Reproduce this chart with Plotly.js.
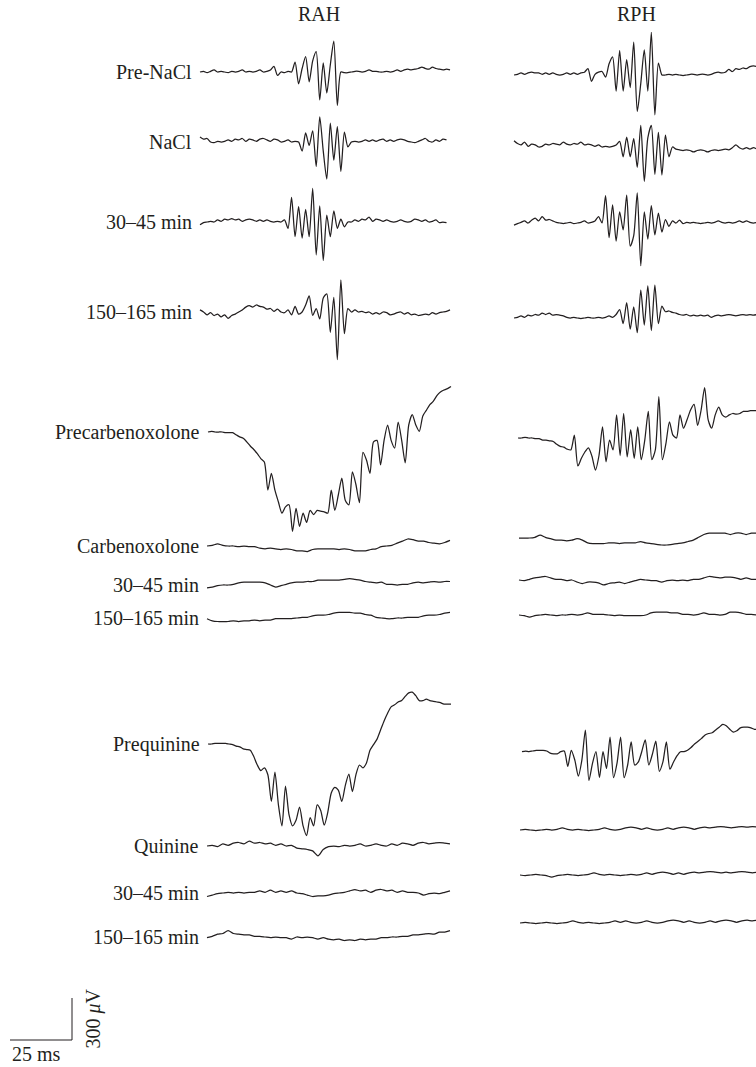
<!DOCTYPE html>
<html><head><meta charset="utf-8">
<script src="https://cdn.plot.ly/plotly-3.0.1.min.js"></script>
<style>html,body{margin:0;padding:0;background:#fff}#chart{width:756px;height:1067px}</style>
</head><body><div id="chart"></div>
<script>
// ---- recorded field potentials, values in microvolts (sampled at fixed intervals) ----
const rahPreNaCl = [0,5,-5,5,15,0,5,0,-5,5,0,5,15,0,5,0,5,15,0,5,15,40,-25,0,-5,5,0,70,-85,25,110,-70,80,145,-200,65,-150,50,220,-240,0,-5,-5,0,5,5,0,5,15,5,5,0,0,5,0,5,15,5,15,20,15,20,25,35,25,20,35,25,20,15,20,15];
const rphPreNaCl = [0,5,15,5,15,20,15,15,5,15,5,15,5,0,5,15,5,15,5,15,20,45,-45,5,20,25,-15,80,130,-115,175,-115,110,-90,235,-260,-60,180,-115,305,-285,85,0,0,5,0,5,0,-5,0,5,5,0,5,5,0,5,15,20,15,20,40,25,45,40,50,45,60,65,60];
const rahNaCl = [35,20,25,0,-5,5,0,5,15,5,20,15,25,5,20,15,5,20,25,15,5,20,15,0,5,15,0,5,0,-65,65,-25,80,-175,180,-65,-265,135,-130,110,-210,70,-35,0,5,0,5,15,5,15,5,15,20,5,15,5,15,20,15,5,0,-5,5,15,25,5,0,15,5,20,15];
const rphNaCl = [45,25,15,35,5,20,15,0,5,20,15,25,20,15,35,20,15,25,20,35,15,20,15,5,15,0,5,0,5,15,40,-70,70,-70,60,-145,155,-245,65,155,-195,105,-200,85,-70,0,-15,-20,-25,-20,-25,-35,-25,-20,-25,-35,-25,-20,-25,-20,-15,-20,-5,15,-5,-15,-5,-15,-5,-15];
const rah30to45 = [-20,-5,0,5,0,15,5,20,15,25,15,20,5,15,20,15,5,15,5,15,5,0,5,0,15,-45,175,-105,110,-115,90,-105,240,-235,115,-275,50,-105,80,-45,20,-35,0,0,15,5,20,15,35,5,20,15,5,15,5,0,5,15,5,0,5,20,15,5,15,0,5,15,-5,0,-5];
const rph30to45 = [-15,-5,5,15,0,20,35,15,45,20,25,15,5,0,-5,0,5,-5,0,5,15,0,5,15,45,0,195,-105,130,-130,80,-50,200,-165,-90,215,-305,80,-115,125,-85,70,-65,25,-25,15,0,20,-5,5,0,5,0,-5,0,5,0,5,15,5,0,5,0,5,15,5,15,5,0,5];
const rah150to165 = [15,0,-20,-5,-25,-15,-35,-20,-45,-25,-15,0,15,35,45,35,50,40,35,20,25,5,20,0,-5,15,-20,40,-15,0,50,115,-25,25,-50,100,130,-145,105,-340,230,-155,25,0,15,0,5,-5,0,-15,-5,-15,0,-5,-20,-15,-5,0,-15,-5,-20,-15,-25,-20,-15,-20,-5,-15,-5,0,5,15];
const rph150to165 = [0,5,15,5,20,15,25,20,35,25,35,20,25,20,15,5,0,5,0,-5,0,5,0,0,5,0,5,15,5,25,60,-40,110,-80,80,-105,200,-50,230,-90,235,-40,85,45,50,40,35,25,20,25,15,20,15,20,15,20,5,15,20,15,20,25,20,15,20,25,20,25,20,25];

const rahPrecarbenoxolone = [0,5,0,0,0,-5,-5,-5,-20,-35,-45,-70,-100,-125,-155,-190,-215,-415,-295,-415,-500,-580,-535,-520,-710,-545,-675,-580,-645,-560,-590,-560,-565,-570,-580,-415,-560,-450,-330,-490,-520,-285,-375,-505,-145,-200,-295,-70,-60,-235,-60,50,-60,-115,70,-60,-220,50,125,50,5,115,155,195,220,260,285,300,310,325];
const rphPrecarbenoxolone = [0,0,5,0,0,-5,-5,-15,-15,-20,-25,-45,-60,-65,-80,-85,20,-200,-145,-100,-70,-130,-230,-125,80,-170,-15,-85,165,-125,175,-135,60,-145,80,-155,-15,190,-155,-85,295,-155,-40,115,20,0,165,70,130,200,240,90,200,360,130,70,165,220,165,150,165,175,170,175,190,190,195,195,195];
const rahCarbenoxolone = [0,5,15,5,0,0,-5,0,-5,-5,-15,-20,-15,-20,-25,-20,-25,-35,-35,-40,-25,-20,-20,-20,-20,-25,-20,-25,-35,-35,-35,-25,-20,-5,0,5,20,35,50,45,35,35,25,20,15,25,40];
const rphCarbenoxolone = [0,0,0,5,20,5,-5,-15,-15,-20,-15,-5,-15,-35,-40,-40,-40,-35,-35,-40,-35,-35,-35,-25,-35,-40,-45,-50,-50,-45,-40,-35,-25,-15,5,25,35,35,35,35,25,35,35,25,35,35];
const rahCbx30to45 = [-20,-15,-5,0,0,5,15,20,20,20,20,15,0,-15,-5,5,15,20,20,25,25,35,35,35,35,35,40,45,40,35,25,20,15,20,5,5,0,5,5,15,20,15,20,25,20,25,25];
const rphCbx30to45 = [0,-5,5,15,20,25,15,5,5,-5,0,-15,-25,-15,-15,-20,-35,-25,-20,-15,-25,-15,-5,5,0,-5,-5,-15,-5,0,-5,0,-5,5,5,15,25,20,15,20,20,15,5,15,5,5];
const rahCbx150to165 = [-5,-20,-25,-25,-25,-20,-25,-20,-20,-15,-20,-15,-15,-5,-5,-5,-5,0,5,5,15,20,20,25,35,40,40,40,35,35,25,20,5,0,-5,-5,0,0,5,5,5,15,20,20,25,35,40];
const rphCbx150to165 = [0,-5,-15,-5,0,5,0,-5,0,0,5,0,5,15,5,5,5,0,-5,0,-5,-5,-5,-5,0,15,20,20,20,15,15,5,5,0,5,15,5,5,0,5,20,20,15,5,5,0];

const rahPrequinine = [0,0,5,5,5,5,0,-5,-15,-20,-35,-40,-45,-90,-150,-190,-170,-220,-410,-200,-435,-585,-300,-505,-585,-545,-450,-585,-655,-525,-585,-435,-475,-580,-490,-350,-310,-330,-410,-295,-215,-340,-220,-150,-170,-135,-45,-5,35,100,165,220,265,280,300,310,340,365,370,345,310,310,320,310,305,300,295,285,285,285];
const rphPrequinine = [-5,0,-5,0,5,5,5,0,-15,-20,-20,-5,0,-110,5,-65,-180,-65,150,-210,-90,-5,-190,-5,-125,100,-190,-85,100,-190,-100,65,-100,-80,-5,80,-100,-25,70,-145,-80,65,-130,-80,-35,-5,-5,5,25,50,70,90,115,125,130,150,170,190,180,155,135,145,165,170,170,165,155,155];
const rahQuinine = [0,5,-5,15,5,20,25,15,35,20,25,15,20,5,15,0,5,-15,-20,-25,-35,-70,-25,-5,0,-5,5,0,5,15,0,5,15,5,0,15,5,20,15,5,20,25,15,20,25,20,15];
const rphQuinine = [0,5,0,-5,0,5,0,5,15,5,0,5,0,-5,0,5,15,5,0,5,15,20,15,5,15,5,0,5,15,5,15,20,15,5,15,20,15,20,25,20,15,20,25,20,25,20];
const rahQn30to45 = [-25,-15,-5,0,5,0,5,0,5,5,15,5,20,5,15,5,15,0,-5,-15,-25,-20,-20,-15,-5,0,5,15,25,15,20,5,20,25,15,20,5,15,5,5,0,-15,-5,0,-5,5,15];
const rphQn30to45 = [0,-5,0,5,0,-5,-15,-5,0,5,0,-5,0,5,15,5,0,5,0,-5,0,5,0,5,15,5,15,20,15,5,15,5,15,20,15,20,25,20,15,20,15,20,25,20,15,20];
const rahQn150to165 = [-5,5,20,25,45,25,20,15,15,5,5,0,-5,0,-5,-5,-15,0,-5,0,-5,-15,-5,-15,-20,-15,-25,-20,-25,-15,-20,-15,-15,-5,-5,0,0,5,5,15,15,20,25,20,35,35,45];
const rphQn150to165 = [0,5,0,-5,0,5,0,-5,0,5,15,5,0,5,0,-5,0,5,15,5,15,5,0,5,15,5,0,5,15,20,15,5,15,5,0,5,15,5,15,20,15,5,15,20,15,20];

const columnTitles = ['RAH', 'RPH'];
const rowLabels = ['Pre-NaCl','NaCl','30\u201345 min','150\u2013165 min','Precarbenoxolone','Carbenoxolone','30\u201345 min','150\u2013165 min','Prequinine','Quinine','30\u201345 min','150\u2013165 min'];
const scaleBar = {ms: 25, uv: 300};

// ---- layout geometry (page pixels) ----
const PX_PER_MS = 2.48, UV_PER_PX = 300 / 42;
const DT_FAST = 1.42, DT_SLOW = 2.13;
const rows = [
  {yL:72,  xL:200, yR:75,  xR:514, L:rahPreNaCl, R:rphPreNaCl, dt:DT_FAST},
  {yL:142, xL:200, yR:147, xR:514, L:rahNaCl, R:rphNaCl, dt:DT_FAST},
  {yL:222, xL:200, yR:223, xR:514, L:rah30to45, R:rph30to45, dt:DT_FAST},
  {yL:312, xL:200, yR:318, xR:514, L:rah150to165, R:rph150to165, dt:DT_FAST},
  {yL:432, xL:208, yR:438, xR:518, L:rahPrecarbenoxolone, R:rphPrecarbenoxolone, dt:DT_FAST},
  {yL:546, xL:207, yR:538, xR:519, L:rahCarbenoxolone, R:rphCarbenoxolone, dt:DT_SLOW},
  {yL:585, xL:207, yR:580, xR:519, L:rahCbx30to45, R:rphCbx30to45, dt:DT_SLOW},
  {yL:618, xL:207, yR:615, xR:519, L:rahCbx150to165, R:rphCbx150to165, dt:DT_SLOW},
  {yL:744, xL:208, yR:751, xR:522, L:rahPrequinine, R:rphPrequinine, dt:DT_FAST},
  {yL:846, xL:207, yR:830, xR:520, L:rahQuinine, R:rphQuinine, dt:DT_SLOW},
  {yL:893, xL:207, yR:875, xR:520, L:rahQn30to45, R:rphQn30to45, dt:DT_SLOW},
  {yL:937, xL:207, yR:923, xR:520, L:rahQn150to165, R:rphQn150to165, dt:DT_SLOW}
];
const INK = '#231f20';
const FONT = {family:'Liberation Serif, Times New Roman, serif', size:20, color:INK};
const msAt = px => px / PX_PER_MS;
const uvAt = py => -py * UV_PER_PX;

const traces = [];
function addTrace(vals, x0, y0, dt){
  traces.push({type:'scatter', mode:'lines', hoverinfo:'skip', showlegend:false,
    x: vals.map((v,i) => msAt(x0) + i*dt),
    y: vals.map(v => uvAt(y0) + v),
    line:{color:INK, width:1.25, shape:'spline', smoothing:0.7}});
}
const annotations = [];
rows.forEach((r, k) => {
  addTrace(r.L, r.xL, r.yL, r.dt);
  addTrace(r.R, r.xR, r.yR, r.dt);
  annotations.push({x: msAt(r.xL - 6), y: uvAt(r.yL), xanchor:'right', yanchor:'middle',
    text: rowLabels[k], showarrow:false, font:FONT});
});
[[319,'RAH'],[636,'RPH']].forEach(([px], j) => {
  annotations.push({x: msAt(px), y: uvAt(14), xanchor:'center', yanchor:'middle',
    text: columnTitles[j], showarrow:false, font:FONT});
});
// scale bar
const sbX = msAt(10), sbY = uvAt(1040);
traces.push({type:'scatter', mode:'lines', hoverinfo:'skip', showlegend:false,
  x:[sbX, sbX + scaleBar.ms, sbX + scaleBar.ms], y:[sbY, sbY, sbY + scaleBar.uv],
  line:{color:INK, width:1}});
annotations.push({x: sbX, y: sbY, xanchor:'left', yanchor:'top', yshift:-1,
  text: scaleBar.ms + ' ms', showarrow:false, font:FONT});
annotations.push({x: sbX + scaleBar.ms, y: sbY + scaleBar.uv/2, xanchor:'left', yanchor:'middle', xshift:7,
  text: scaleBar.uv + ' <i>\u03bc</i>V', textangle:-90, showarrow:false, font:FONT});

Plotly.newPlot('chart', traces, {
  width:756, height:1067, margin:{l:0,r:0,t:0,b:0},
  paper_bgcolor:'#fff', plot_bgcolor:'#fff', showlegend:false,
  xaxis:{range:[0, msAt(756)], visible:false, fixedrange:true},
  yaxis:{range:[uvAt(1067), 0], visible:false, fixedrange:true},
  annotations
}, {staticPlot:true});
</script></body></html>
